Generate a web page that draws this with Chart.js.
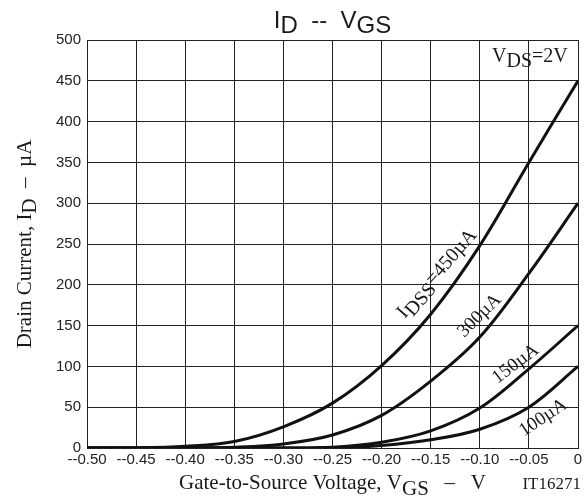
<!DOCTYPE html>
<html>
<head>
<meta charset="utf-8">
<script src="https://cdn.jsdelivr.net/npm/chart.js@4.4.1/dist/chart.umd.min.js"></script>
<style>
  html, body { margin: 0; padding: 0; background: #fff; }
  canvas { display: block; }
</style>
</head>
<body>
<canvas id="chart" width="588" height="497"></canvas>
<script>
// gate-to-source voltage (V)
const vgs = [-0.50, -0.45, -0.40, -0.35, -0.30, -0.25, -0.20, -0.15, -0.10, -0.05, 0];
// drain current (uA) for each IDSS class
const id450 = [0, 0, 2, 8, 26, 55, 101, 164, 248, 350, 450];
const id300 = [0, 0, 0, 1, 5, 16, 40, 82, 136, 214, 300];
const id150 = [0, 0, 0, 0, 0, 1, 7, 21, 49, 97, 150];
const id100 = [0, 0, 0, 0, 0, 0, 3, 10, 23, 50, 100];

const xTickLabels = ['--0.50', '--0.45', '--0.40', '--0.35', '--0.30', '--0.25', '--0.20', '--0.15', '--0.10', '--0.05', '0'];
const yTickLabels = ['0', '50', '100', '150', '200', '250', '300', '350', '400', '450', '500'];

const SANS = '"Liberation Sans", Arial, sans-serif';
const SERIF = '"Liberation Serif", "Times New Roman", serif';

function pts(ys) {
  return vgs.map((v, i) => ({x: v, y: ys[i]}));
}

function curve(ys) {
  return {
    data: pts(ys),
    borderColor: '#111',
    borderWidth: 3,
    pointRadius: 0,
    tension: 0.35,
    fill: false
  };
}

// text with subscripts: parts = [[text, isSub], ...]
function drawRich(ctx, parts, x, y, align, sub) {
  let w = 0;
  parts.forEach(p => { w += ctx.measureText(p[0]).width; });
  let cx = align === 'center' ? x - w / 2 : align === 'right' ? x - w : x;
  ctx.textAlign = 'left';
  parts.forEach(p => {
    ctx.fillText(p[0], cx, p[1] ? y + sub : y);
    cx += ctx.measureText(p[0]).width;
  });
}

const textPlugin = {
  id: 'texts',
  afterDraw(chart) {
    const ctx = chart.ctx;
    const a = chart.chartArea;
    const xs = chart.scales.x, ys = chart.scales.y;
    const mid = (a.left + a.right) / 2;
    ctx.save();
    ctx.fillStyle = '#1a1a1a';
    ctx.textBaseline = 'alphabetic';

    // title
    ctx.font = '24px ' + SANS;
    drawRich(ctx, [['I', 0], ['D', 1], ['  --  ', 0], ['V', 0], ['GS', 1]], mid, 28, 'center', 5);

    // x axis title
    ctx.font = '21px ' + SERIF;
    drawRich(ctx, [['Gate-to-Source Voltage, V', 0], ['GS', 1], ['   \u2013   V', 0]], mid, 489, 'center', 6);

    ctx.font = '17px ' + SERIF;
    drawRich(ctx, [['IT16271', 0]], 581, 489, 'right', 0);

    // y axis title
    ctx.save();
    ctx.translate(31, (a.top + a.bottom) / 2);
    ctx.rotate(-Math.PI / 2);
    ctx.font = '21px ' + SERIF;
    drawRich(ctx, [['Drain Current, I', 0], ['D', 1], ['  \u2013  \u00b5A', 0]], 0, 0, 'center', 5);
    ctx.restore();

    // condition
    ctx.font = '20px ' + SERIF;
    drawRich(ctx, [['V', 0], ['DS', 1], ['=2V', 0]], 492, 62, 'left', 5);

    // curve labels
    const labels = [
      {x: -0.144, y: 214, ang: -49, size: 20, parts: [['I', 0], ['DSS', 1], ['=450\u00b5A', 0]]},
      {x: -0.101, y: 163, ang: -45, size: 19, parts: [['300\u00b5A', 0]]},
      {x: -0.064, y: 104, ang: -37, size: 19, parts: [['150\u00b5A', 0]]},
      {x: -0.036, y: 38, ang: -34, size: 19, parts: [['100\u00b5A', 0]]}
    ];
    labels.forEach(l => {
      ctx.save();
      ctx.font = l.size + 'px ' + SERIF;
      ctx.translate(xs.getPixelForValue(l.x), ys.getPixelForValue(l.y));
      ctx.rotate(l.ang * Math.PI / 180);
      drawRich(ctx, l.parts, 0, 6, 'center', 5);
      ctx.restore();
    });
    ctx.restore();
  }
};

new Chart(document.getElementById('chart'), {
  type: 'line',
  data: {
    datasets: [curve(id450), curve(id300), curve(id150), curve(id100)]
  },
  options: {
    responsive: false,
    animation: false,
    devicePixelRatio: 1,
    layout: { padding: { top: 40, right: 10, left: 0, bottom: 0 } },
    plugins: { legend: { display: false }, tooltip: { enabled: false } },
    scales: {
      x: {
        type: 'linear',
        min: -0.5,
        max: 0,
        afterFit(s) { s.height = 49; },
        grid: { color: '#222', lineWidth: 1, drawTicks: false },
        border: { color: '#222', width: 1 },
        ticks: {
          stepSize: 0.05,
          autoSkip: false,
          maxRotation: 0,
          padding: 3,
          color: '#222',
          font: { family: SANS, size: 15 },
          callback: (v, i) => xTickLabels[i]
        }
      },
      y: {
        min: 0,
        max: 500,
        afterFit(s) { s.width = 87; },
        grid: { color: '#222', lineWidth: 1, drawTicks: false },
        border: { color: '#222', width: 1 },
        ticks: {
          stepSize: 50,
          padding: 6,
          color: '#222',
          font: { family: SANS, size: 15 },
          callback: (v, i) => yTickLabels[i]
        }
      }
    }
  },
  plugins: [textPlugin]
});
</script>
</body>
</html>
